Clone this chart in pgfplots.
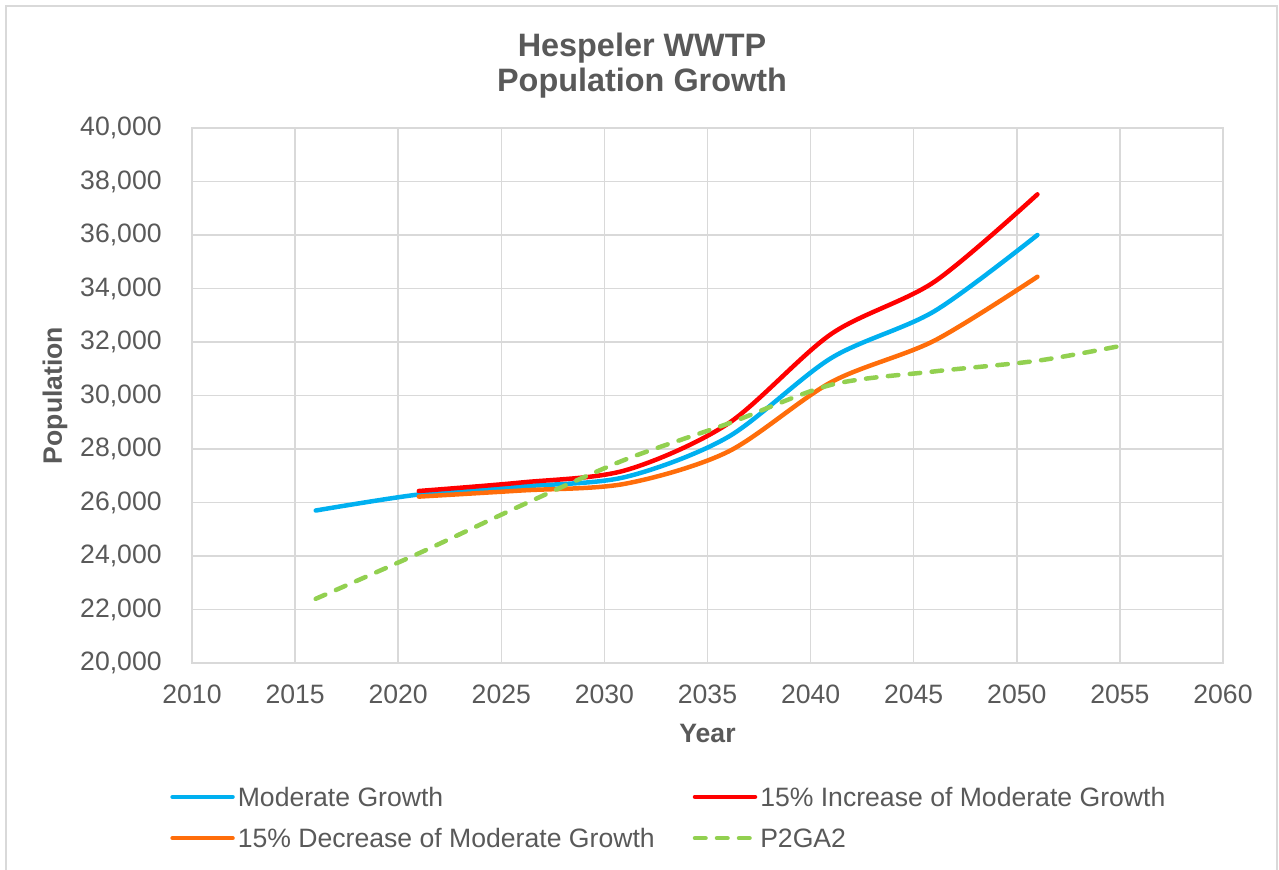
\documentclass[border=0pt]{standalone}
\usepackage{pgfplots}
\pgfplotsset{compat=1.18}
\usepackage{fontspec}
\setmainfont{Liberation Sans}
\definecolor{gridgray}{HTML}{D9D9D9}
\definecolor{txtgray}{HTML}{595959}
\definecolor{mblue}{HTML}{00B0F0}
\definecolor{mred}{HTML}{FF0000}
\definecolor{morange}{HTML}{FF6D0A}
\definecolor{mgreen}{HTML}{92D050}
\begin{document}
\begin{tikzpicture}[x=1pt,y=1pt]
\path[use as bounding box] (0,0) rectangle (639.5,434.5);
\draw[gridgray, line width=1pt] (3,-5) rectangle (638.5,431.5);
\begin{axis}[
  at={(96pt,103pt)}, anchor=south west,
  scale only axis, width=515.5pt, height=267.5pt,
  xmin=2010, xmax=2060, ymin=20000, ymax=40000,
  xtick={2010,2015,...,2060}, ytick={20000,22000,...,40000},
  grid=major, major grid style={gridgray, line width=0.75pt},
  axis line style={gridgray, line width=0.75pt},
  tick style={draw=none},
  /pgf/number format/assume math mode=true,
  scaled y ticks=false,
  ticklabel style={font=\fontsize{13.3}{15}\selectfont, text=txtgray},
  yticklabel style={/pgf/number format/1000 sep={,}, anchor=east, inner sep=0pt, xshift=-15pt},
  xticklabel style={/pgf/number format/1000 sep={}, anchor=north, inner sep=0pt, yshift=-11pt},
  title={Hespeler WWTP\\Population Growth},
  title style={at={(0.5,1)}, anchor=center, xshift=-32.75pt, yshift=25.25pt, align=center,
    font=\bfseries\fontsize{16.2}{17.5}\selectfont, text=txtgray},
  xlabel={Year},
  xlabel style={at={(axis description cs:0.5,-0.1308)}, anchor=center, font=\bfseries\fontsize{13.3}{15}\selectfont, text=txtgray},
  ylabel={Population},
  ylabel style={at={(axis description cs:-0.1329,0.5)}, anchor=center, font=\bfseries\fontsize{13.3}{15}\selectfont, text=txtgray},
  legend columns=2,
  legend cell align=left,
  legend style={draw=none, fill=none, at={(axis description cs:0.463,-0.2888)}, anchor=center,
    font=\fontsize{13.3}{15}\selectfont, text=txtgray,
    nodes={inner sep=1.5pt, text height=9.6pt, text depth=0.5pt},
    row sep=7.5pt,
    /tikz/every even column/.append style={column sep=17.5pt}},
  legend image code/.code={\draw[#1] (0pt,0pt) -- (30pt,0pt);},
  every axis plot/.append style={line width=2.25pt, line cap=round, line join=round, smooth, tension=0.5},
]
\addplot[mblue] coordinates {(2016,25700) (2021,26300) (2026,26600) (2031,26950) (2036,28450) (2041,31400) (2046,33150) (2051,36000)};
\addlegendentry{Moderate Growth}
\addplot[mred] coordinates {(2021,26430) (2026,26750) (2031,27200) (2036,28950) (2041,32300) (2046,34250) (2051,37520)};
\addlegendentry{15\% Increase of Moderate Growth}
\addplot[morange] coordinates {(2021,26220) (2026,26450) (2031,26700) (2036,27900) (2041,30500) (2046,32050) (2051,34440)};
\addlegendentry{15\% Decrease of Moderate Growth}
\addplot[mgreen, dash pattern=on 5.25pt off 5.75pt] coordinates {(2016,22400) (2021,24100) (2026,25900) (2031,27600) (2036,28950) (2041,30400) (2046,30900) (2051,31300) (2055,31850)};
\addlegendentry{P2GA2}
\end{axis}
\end{tikzpicture}
\end{document}
